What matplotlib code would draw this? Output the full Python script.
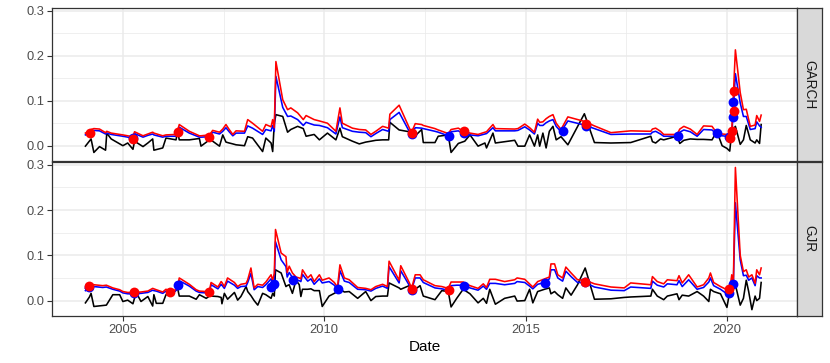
import matplotlib
matplotlib.use("Agg")
import matplotlib.pyplot as plt
from matplotlib.ticker import MultipleLocator, FixedLocator

plt.rcParams['font.family'] = ['Liberation Sans', 'DejaVu Sans']

# ---- GARCH panel: date (decimal year), realised loss (black), VaR 95 (blue), VaR 99 (red)
garch_date = [2004.07, 2004.21, 2004.28, 2004.42, 2004.57, 2004.60, 2004.71, 2005.00, 2005.12, 2005.25,
              2005.29, 2005.50, 2005.62, 2005.74, 2005.77, 2005.99, 2006.07, 2006.32, 2006.36, 2006.40,
              2006.65, 2006.90, 2006.94, 2007.15, 2007.23, 2007.40, 2007.48, 2007.56, 2007.64, 2007.73,
              2007.81, 2008.02, 2008.10, 2008.22, 2008.47, 2008.55, 2008.68, 2008.72, 2008.76, 2008.80,
              2008.97, 2009.09, 2009.17, 2009.34, 2009.48, 2009.55, 2009.75, 2009.88, 2010.08, 2010.29,
              2010.39, 2010.45, 2010.70, 2010.87, 2011.03, 2011.16, 2011.28, 2011.45, 2011.60, 2011.63,
              2011.86, 2012.11, 2012.17, 2012.26, 2012.42, 2012.46, 2012.75, 2012.83, 2013.08, 2013.15,
              2013.33, 2013.49, 2013.62, 2013.82, 2013.99, 2014.03, 2014.19, 2014.25, 2014.73, 2014.81,
              2014.98, 2015.10, 2015.22, 2015.30, 2015.35, 2015.43, 2015.51, 2015.59, 2015.68, 2015.76,
              2015.88, 2016.05, 2016.46, 2016.71, 2017.12, 2017.61, 2018.11, 2018.15, 2018.23, 2018.35,
              2018.43, 2018.76, 2018.83, 2018.93, 2019.09, 2019.26, 2019.42, 2019.63, 2019.75, 2019.88,
              2020.00, 2020.07, 2020.12, 2020.21, 2020.33, 2020.41, 2020.48, 2020.58, 2020.70, 2020.74,
              2020.81, 2020.85]
garch_loss = [-0.001, 0.015, -0.015, -0.002, -0.010, 0.028, 0.015, 0.000, 0.006, -0.008,
              0.010, -0.002, 0.006, 0.015, -0.010, -0.005, 0.017, 0.013, 0.032, 0.013,
              0.013, 0.016, -0.001, 0.013, 0.010, -0.001, 0.024, 0.008, 0.006, 0.004,
              0.002, 0.000, 0.020, 0.017, -0.013, 0.017, 0.006, -0.013, 0.050, 0.069,
              0.065, 0.030, 0.036, 0.043, 0.038, 0.021, 0.025, 0.013, 0.028, 0.013,
              0.039, 0.020, 0.010, 0.004, 0.008, 0.010, 0.012, 0.013, 0.013, 0.052,
              0.035, 0.031, 0.030, 0.022, 0.036, 0.007, 0.007, 0.021, 0.024, -0.015,
              0.005, 0.010, 0.024, -0.001, 0.006, -0.005, 0.028, 0.006, 0.012, -0.001,
              -0.001, 0.024, -0.001, 0.024, -0.001, 0.028, -0.005, 0.032, 0.043, 0.013,
              0.020, 0.002, 0.071, 0.007, 0.006, 0.007, 0.021, 0.009, 0.006, 0.015,
              0.013, 0.021, 0.005, 0.012, 0.015, 0.014, 0.014, 0.013, 0.032, 0.000,
              -0.006, -0.012, 0.032, 0.043, 0.003, 0.013, 0.045, 0.013, 0.006, 0.013,
              0.005, 0.047]
garch_var95 = [0.024, 0.032, 0.034, 0.033, 0.026, 0.028, 0.025, 0.021, 0.019, 0.016,
               0.027, 0.019, 0.023, 0.026, 0.024, 0.019, 0.021, 0.021, 0.030, 0.041,
               0.028, 0.019, 0.019, 0.020, 0.030, 0.026, 0.032, 0.040, 0.031, 0.022,
               0.028, 0.028, 0.044, 0.039, 0.025, 0.036, 0.033, 0.045, 0.032, 0.154,
               0.085, 0.065, 0.066, 0.058, 0.045, 0.052, 0.046, 0.045, 0.040, 0.026,
               0.064, 0.040, 0.032, 0.030, 0.029, 0.020, 0.027, 0.036, 0.032, 0.058,
               0.074, 0.032, 0.025, 0.040, 0.039, 0.038, 0.032, 0.030, 0.022, 0.031,
               0.033, 0.025, 0.024, 0.022, 0.026, 0.027, 0.040, 0.033, 0.033, 0.034,
               0.042, 0.035, 0.026, 0.050, 0.045, 0.045, 0.051, 0.055, 0.058, 0.043,
               0.031, 0.055, 0.046, 0.038, 0.025, 0.026, 0.026, 0.030, 0.032, 0.026,
               0.021, 0.021, 0.030, 0.035, 0.031, 0.021, 0.036, 0.035, 0.025, 0.022,
               0.021, 0.018, 0.022, 0.160, 0.095, 0.065, 0.065, 0.036, 0.038, 0.053,
               0.044, 0.041]
garch_var99 = [0.028, 0.036, 0.038, 0.037, 0.029, 0.032, 0.028, 0.024, 0.022, 0.020,
               0.031, 0.022, 0.026, 0.030, 0.028, 0.022, 0.024, 0.025, 0.034, 0.047,
               0.032, 0.022, 0.022, 0.024, 0.034, 0.030, 0.037, 0.047, 0.036, 0.025,
               0.033, 0.032, 0.058, 0.050, 0.032, 0.047, 0.042, 0.058, 0.040, 0.187,
               0.102, 0.080, 0.084, 0.073, 0.058, 0.067, 0.058, 0.055, 0.050, 0.032,
               0.084, 0.050, 0.039, 0.036, 0.035, 0.025, 0.032, 0.043, 0.039, 0.070,
               0.090, 0.040, 0.030, 0.049, 0.047, 0.045, 0.038, 0.035, 0.027, 0.036,
               0.039, 0.030, 0.028, 0.025, 0.030, 0.031, 0.047, 0.038, 0.037, 0.038,
               0.048, 0.040, 0.030, 0.059, 0.052, 0.053, 0.060, 0.065, 0.069, 0.050,
               0.036, 0.064, 0.054, 0.044, 0.029, 0.033, 0.032, 0.037, 0.039, 0.032,
               0.025, 0.025, 0.037, 0.043, 0.037, 0.025, 0.044, 0.043, 0.028, 0.026,
               0.025, 0.027, 0.033, 0.213, 0.118, 0.080, 0.081, 0.043, 0.046, 0.067,
               0.054, 0.068]
# exceedance markers
garch_hit95_date = [2005.25, 2012.19, 2013.10, 2013.48, 2015.93, 2016.49, 2018.78, 2019.75,
                    2020.05, 2020.15, 2020.15]
garch_hit95_val = [0.017, 0.026, 0.022, 0.028, 0.032, 0.043, 0.022, 0.028,
                   0.020, 0.063, 0.097]
garch_hit99_date = [2004.18, 2005.25, 2006.37, 2007.15, 2012.19, 2013.48, 2016.49,
                    2020.07, 2020.13, 2020.17, 2020.17]
garch_hit99_val = [0.028, 0.015, 0.031, 0.020, 0.028, 0.033, 0.049,
                   0.016, 0.032, 0.078, 0.122]

# ---- GJR panel
gjr_date = [2004.07, 2004.17, 2004.21, 2004.28, 2004.50, 2004.59, 2004.75, 2004.92, 2005.00, 2005.12,
            2005.25, 2005.33, 2005.45, 2005.62, 2005.74, 2005.77, 2005.83, 2005.99, 2006.07, 2006.24,
            2006.36, 2006.40, 2006.65, 2006.82, 2006.90, 2007.07, 2007.15, 2007.19, 2007.36, 2007.44,
            2007.46, 2007.52, 2007.60, 2007.77, 2007.85, 2007.93, 2008.06, 2008.10, 2008.18, 2008.26,
            2008.35, 2008.47, 2008.55, 2008.68, 2008.72, 2008.76, 2008.79, 2008.93, 2009.05, 2009.08,
            2009.13, 2009.21, 2009.30, 2009.38, 2009.42, 2009.46, 2009.59, 2009.67, 2009.75, 2009.88,
            2009.95, 2010.12, 2010.25, 2010.33, 2010.39, 2010.50, 2010.62, 2010.83, 2011.03, 2011.16,
            2011.28, 2011.45, 2011.57, 2011.61, 2011.86, 2011.90, 2012.11, 2012.17, 2012.26, 2012.38,
            2012.46, 2012.75, 2012.92, 2013.08, 2013.15, 2013.29, 2013.45, 2013.62, 2013.82, 2013.95,
            2014.03, 2014.11, 2014.25, 2014.48, 2014.73, 2014.79, 2014.98, 2015.10, 2015.18, 2015.30,
            2015.47, 2015.59, 2015.63, 2015.72, 2015.80, 2015.92, 2016.00, 2016.13, 2016.29, 2016.48,
            2016.71, 2017.12, 2017.45, 2017.61, 2018.11, 2018.15, 2018.27, 2018.43, 2018.52, 2018.76,
            2018.81, 2018.89, 2019.05, 2019.26, 2019.42, 2019.55, 2019.59, 2019.67, 2019.84, 2020.00,
            2020.08, 2020.12, 2020.16, 2020.21, 2020.33, 2020.41, 2020.48, 2020.54, 2020.62, 2020.70,
            2020.74, 2020.81, 2020.85]
gjr_loss = [-0.005, 0.008, 0.016, -0.013, -0.011, -0.010, 0.013, 0.013, -0.002, 0.001,
            -0.007, 0.018, -0.002, 0.009, -0.012, 0.013, -0.006, -0.006, 0.013, 0.016,
            0.027, 0.010, 0.010, 0.003, 0.013, 0.005, 0.010, 0.010, 0.009, 0.007,
            -0.007, 0.016, 0.003, 0.018, 0.001, 0.009, 0.031, 0.020, 0.011, 0.000,
            -0.010, 0.016, 0.013, 0.005, 0.016, 0.010, 0.068, 0.061, 0.031, 0.033,
            0.035, 0.016, 0.045, 0.035, 0.009, 0.025, 0.025, 0.026, 0.022, 0.022,
            -0.013, 0.010, 0.016, 0.020, 0.025, 0.019, 0.020, 0.005, 0.020, 0.000,
            0.009, 0.010, 0.010, 0.039, 0.028, 0.025, 0.033, 0.022, 0.025, 0.033,
            0.010, 0.002, 0.022, 0.020, -0.014, 0.005, 0.025, 0.015, -0.005, 0.005,
            -0.006, 0.025, -0.008, 0.005, 0.010, -0.001, 0.000, 0.025, -0.005, 0.020,
            0.025, 0.028, 0.015, 0.020, 0.013, 0.005, 0.028, 0.012, 0.035, 0.072,
            0.003, 0.004, 0.007, 0.008, 0.010, 0.025, 0.010, 0.002, 0.010, 0.015,
            0.002, 0.012, 0.010, 0.020, 0.010, -0.002, 0.025, 0.020, 0.015, -0.015,
            0.025, 0.030, 0.035, 0.035, -0.010, 0.005, 0.045, 0.020, -0.020, 0.010,
            0.000, 0.005, 0.040]
gjr_var95 = [0.022, 0.032, 0.032, 0.031, 0.029, 0.030, 0.025, 0.021, 0.017, 0.015,
             0.015, 0.016, 0.016, 0.018, 0.023, 0.022, 0.021, 0.016, 0.021, 0.016,
             0.026, 0.044, 0.032, 0.021, 0.018, 0.017, 0.018, 0.035, 0.026, 0.036,
             0.034, 0.027, 0.043, 0.034, 0.027, 0.031, 0.032, 0.040, 0.060, 0.024,
             0.031, 0.029, 0.035, 0.048, 0.038, 0.040, 0.130, 0.090, 0.075, 0.052,
             0.062, 0.051, 0.045, 0.044, 0.042, 0.058, 0.043, 0.048, 0.036, 0.048,
             0.039, 0.042, 0.034, 0.025, 0.066, 0.043, 0.040, 0.025, 0.024, 0.021,
             0.027, 0.032, 0.027, 0.075, 0.039, 0.066, 0.034, 0.024, 0.050, 0.050,
             0.040, 0.028, 0.026, 0.023, 0.033, 0.034, 0.034, 0.028, 0.023, 0.032,
             0.025, 0.038, 0.038, 0.035, 0.038, 0.042, 0.040, 0.032, 0.026, 0.036,
             0.040, 0.048, 0.068, 0.068, 0.050, 0.043, 0.065, 0.053, 0.040, 0.040,
             0.030, 0.023, 0.022, 0.030, 0.027, 0.043, 0.034, 0.030, 0.037, 0.035,
             0.044, 0.031, 0.046, 0.025, 0.029, 0.041, 0.050, 0.033, 0.025, 0.015,
             0.020, 0.030, 0.038, 0.216, 0.090, 0.055, 0.056, 0.045, 0.050, 0.033,
             0.055, 0.050, 0.050]
gjr_var99 = [0.027, 0.037, 0.036, 0.035, 0.033, 0.034, 0.028, 0.024, 0.020, 0.018,
             0.018, 0.018, 0.019, 0.021, 0.027, 0.026, 0.024, 0.019, 0.025, 0.018,
             0.030, 0.050, 0.036, 0.024, 0.021, 0.020, 0.022, 0.040, 0.030, 0.042,
             0.040, 0.031, 0.050, 0.040, 0.031, 0.036, 0.038, 0.046, 0.072, 0.028,
             0.036, 0.034, 0.041, 0.057, 0.045, 0.060, 0.157, 0.105, 0.097, 0.062,
             0.076, 0.061, 0.052, 0.050, 0.048, 0.068, 0.050, 0.057, 0.042, 0.057,
             0.045, 0.050, 0.040, 0.030, 0.079, 0.050, 0.046, 0.029, 0.027, 0.024,
             0.031, 0.036, 0.031, 0.087, 0.045, 0.077, 0.040, 0.027, 0.057, 0.057,
             0.046, 0.033, 0.031, 0.027, 0.041, 0.041, 0.041, 0.033, 0.027, 0.037,
             0.029, 0.047, 0.047, 0.042, 0.046, 0.050, 0.047, 0.037, 0.030, 0.042,
             0.048, 0.052, 0.081, 0.081, 0.057, 0.050, 0.074, 0.061, 0.046, 0.045,
             0.037, 0.030, 0.028, 0.039, 0.035, 0.053, 0.042, 0.037, 0.046, 0.044,
             0.055, 0.039, 0.057, 0.030, 0.035, 0.050, 0.061, 0.040, 0.031, 0.024,
             0.030, 0.057, 0.040, 0.294, 0.100, 0.064, 0.068, 0.052, 0.057, 0.038,
             0.068, 0.057, 0.072]
gjr_hit95_date = [2004.17, 2005.27, 2006.38, 2008.68, 2008.76, 2009.23, 2010.33,
                  2012.19, 2013.47, 2015.49, 2016.48, 2020.06, 2020.16]
gjr_hit95_val = [0.029, 0.017, 0.035, 0.031, 0.037, 0.046, 0.025,
                 0.023, 0.033, 0.039, 0.040, 0.016, 0.036]
gjr_hit99_date = [2004.17, 2005.27, 2006.16, 2007.15, 2012.19, 2013.10, 2016.48, 2020.06]
gjr_hit99_val = [0.033, 0.020, 0.018, 0.018, 0.025, 0.024, 0.042, 0.026]

panels = [
    ("GARCH", garch_date, garch_loss, garch_var95, garch_var99,
     garch_hit95_date, garch_hit95_val, garch_hit99_date, garch_hit99_val),
    ("GJR", gjr_date, gjr_loss, gjr_var95, gjr_var99,
     gjr_hit95_date, gjr_hit95_val, gjr_hit99_date, gjr_hit99_val),
]

W, H = 830, 363
fig = plt.figure(figsize=(W / 100, H / 100), dpi=100)

# pixel boxes: (top, bottom) of each panel
boxes = [(8, 161), (162, 316)]
left, right, strip_r = 52, 797, 822
border = "#333333"

for (name, d, loss, v95, v99, h95d, h95v, h99d, h99v), (top, bot) in zip(panels, boxes):
    ax = fig.add_axes([left / W, 1 - bot / H, (right - left) / W, (bot - top) / H])
    ax.plot(d, loss, color="black", lw=1.15, zorder=3)
    ax.plot(d, v95, color="blue", lw=1.15, zorder=4)
    ax.plot(d, v99, color="red", lw=1.15, zorder=5)
    ax.scatter(h95d, h95v, s=50, color="blue", zorder=6, linewidths=0)
    ax.scatter(h99d, h99v, s=50, color="red", zorder=7, linewidths=0)

    ax.set_xlim(2003.24, 2021.74)
    ax.set_ylim(-0.034, 0.306)
    ax.xaxis.set_major_locator(FixedLocator([2005, 2010, 2015, 2020]))
    ax.xaxis.set_minor_locator(FixedLocator([2002.5, 2007.5, 2012.5, 2017.5]))
    ax.yaxis.set_major_locator(MultipleLocator(0.1))
    ax.yaxis.set_minor_locator(FixedLocator([0.05, 0.15, 0.25]))
    ax.grid(which="major", color="#EBEBEB", lw=1.1, zorder=0)
    ax.grid(which="minor", color="#EBEBEB", lw=0.55, zorder=0)
    ax.set_axisbelow(True)
    ax.yaxis.set_major_formatter(plt.FuncFormatter(lambda v, p: f"{v:.1f}"))
    ax.tick_params(which="major", length=3.5, width=0.8, color=border,
                   labelsize=9.3, labelcolor="#4D4D4D", pad=2)
    ax.tick_params(which="minor", length=0)
    for sp in ax.spines.values():
        sp.set_color(border)
        sp.set_linewidth(0.9)
    if name == "GARCH":
        ax.tick_params(axis="x", labelbottom=False, length=0)
    else:
        ax.set_xlabel("Date", fontsize=11, labelpad=3)

    # facet strip on the right
    sax = fig.add_axes([right / W, 1 - bot / H, (strip_r - right) / W, (bot - top) / H])
    sax.set_facecolor("#D9D9D9")
    sax.set_xticks([])
    sax.set_yticks([])
    for sp in sax.spines.values():
        sp.set_color(border)
        sp.set_linewidth(0.9)
    sax.text(0.5, 0.5, name, rotation=270, ha="center", va="center",
             fontsize=9.8, color="#1A1A1A", transform=sax.transAxes)

fig.savefig("out.png", dpi=100)
